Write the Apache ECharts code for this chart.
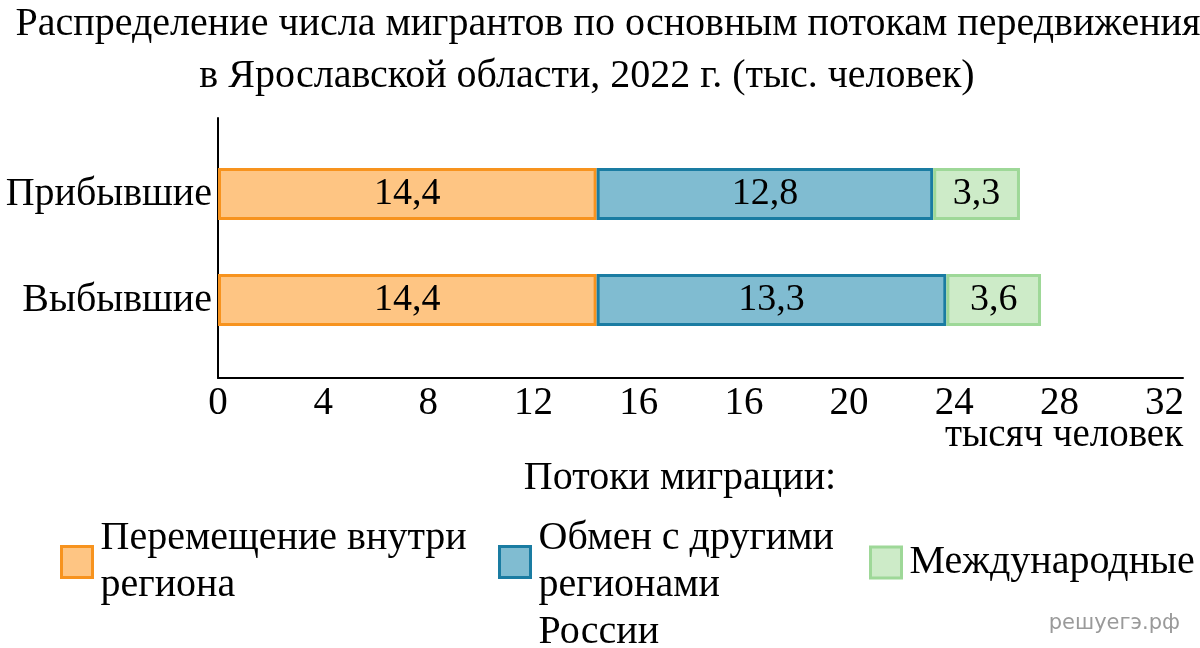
<!DOCTYPE html>
<html>
<head>
<meta charset="utf-8">
<script src="https://cdn.jsdelivr.net/npm/echarts@6/dist/echarts.min.js"></script>
<style>
html,body{margin:0;padding:0;background:#fff;}
#chart{width:1200px;height:648px;}
</style>
</head>
<body>
<div id="chart"></div>
<script>
// ---- data ----
const categories = ['Прибывшие', 'Выбывшие'];
const intraRegion = [14.4, 14.4];      // Перемещение внутри региона
const interRegion = [12.8, 13.3];      // Обмен с другими регионами России
const international = [3.3, 3.6];      // Международные
const tickLabels = ['0', '4', '8', '12', '16', '16', '20', '24', '28', '32'];
const seriesNames = ['Перемещение внутри региона', 'Обмен с другими регионами России', 'Международные'];
const legendLabels = ['Перемещение внутри\nрегиона', ' \nОбмен с другими\nрегионами\nРоссии', 'Международные'];
const titleLine1 = 'Распределение числа мигрантов по основным потокам передвижения';
const titleLine2 = 'в Ярославской области, 2022 г. (тыс. человек)';
const unitLabel = 'тысяч человек';
const legendTitle = 'Потоки миграции:';
const watermark = 'решуегэ.рф';

const SERIF = "'Liberation Serif', 'Times New Roman', serif";
const colors = [
  {fill: '#FEC583', border: '#F7931E'},
  {fill: '#80BCD1', border: '#1A7CA2'},
  {fill: '#CDEBC8', border: '#9ED898'}
];
const AX_MAX = 36.7;

const chart = echarts.init(document.getElementById('chart'), null, {renderer: 'canvas'});

function mkSeries(i, data) {
  return {
    name: seriesNames[i],
    type: 'bar',
    stack: 'total',
    xAxisIndex: 1,
    yAxisIndex: 1,
    barWidth: 52,
    data: data,
    itemStyle: {color: colors[i].fill, borderColor: colors[i].border, borderWidth: 3},
    label: {
      show: true,
      position: 'inside',
      color: '#000',
      fontFamily: SERIF,
      fontSize: 38,
      formatter: p => String(p.value).replace('.', ',')
    },
    emphasis: {disabled: true}
  };
}

function mkLegend(i, left, top) {
  return {
    show: true,
    orient: 'vertical',
    left: left,
    top: top,
    padding: 0,
    itemWidth: 31,
    itemHeight: 31,
    icon: 'rect',
    selectedMode: false,
    data: [{name: seriesNames[i]}],
    formatter: () => legendLabels[i],
    itemStyle: {borderWidth: 3},
    textStyle: {fontFamily: SERIF, fontSize: 40, lineHeight: 47, color: '#000', padding: [0, 0, 0, 3]}
  };
}

const option = {
  animation: false,
  backgroundColor: '#fff',
  title: [
    {text: titleLine1, left: 603, top: -1, textAlign: 'center',
     textStyle: {fontFamily: SERIF, fontSize: 40, fontWeight: 'normal', color: '#000'}},
    {text: titleLine2, left: 582, top: 51, textAlign: 'center',
     textStyle: {fontFamily: SERIF, fontSize: 40, fontWeight: 'normal', color: '#000'}},
    {text: unitLabel, left: 1059, top: 411, textAlign: 'center',
     textStyle: {fontFamily: SERIF, fontSize: 39, fontWeight: 'normal', color: '#000'}},
    {text: legendTitle, left: 675, top: 453, textAlign: 'center',
     textStyle: {fontFamily: SERIF, fontSize: 40, fontWeight: 'normal', color: '#000'}},
    {text: watermark, right: 15, top: 608,
     textStyle: {fontFamily: "'DejaVu Sans', sans-serif", fontSize: 21, fontWeight: 'normal', color: '#9a9a9a'}}
  ],
  legend: [
    mkLegend(0, 60, 515),
    mkLegend(1, 498, 468),
    mkLegend(2, 869, 539)
  ],
  grid: [
    {left: 218, right: 17, top: 118, bottom: 270},
    {left: 218, right: 17, top: 141, bottom: 295}
  ],
  xAxis: [
    {
      type: 'value', gridIndex: 0, min: 0, max: AX_MAX, interval: 4,
      axisLine: {show: true, lineStyle: {color: '#000', width: 2}},
      axisTick: {show: false},
      splitLine: {show: false},
      axisLabel: {
        show: true, margin: 6, color: '#000', fontFamily: SERIF, fontSize: 39,
        showMaxLabel: false,
        formatter: v => {
          const k = Math.round(v / 4);
          return (Math.abs(v - k * 4) < 1e-6 && k < tickLabels.length) ? tickLabels[k] : '';
        }
      }
    },
    {
      type: 'value', gridIndex: 1, min: 0, max: AX_MAX,
      show: false
    }
  ],
  yAxis: [
    {
      type: 'value', gridIndex: 0, min: 0, max: 1,
      axisLine: {show: true, lineStyle: {color: '#000', width: 2}},
      axisTick: {show: false}, axisLabel: {show: false}, splitLine: {show: false}
    },
    {
      type: 'category', gridIndex: 1, inverse: true, data: categories,
      axisLine: {show: false}, axisTick: {show: false}, splitLine: {show: false},
      axisLabel: {color: '#000', fontFamily: SERIF, fontSize: 40, margin: 6}
    }
  ],
  series: [
    mkSeries(0, intraRegion),
    mkSeries(1, interRegion),
    mkSeries(2, international)
  ]
};
chart.setOption(option);
</script>
</body>
</html>
